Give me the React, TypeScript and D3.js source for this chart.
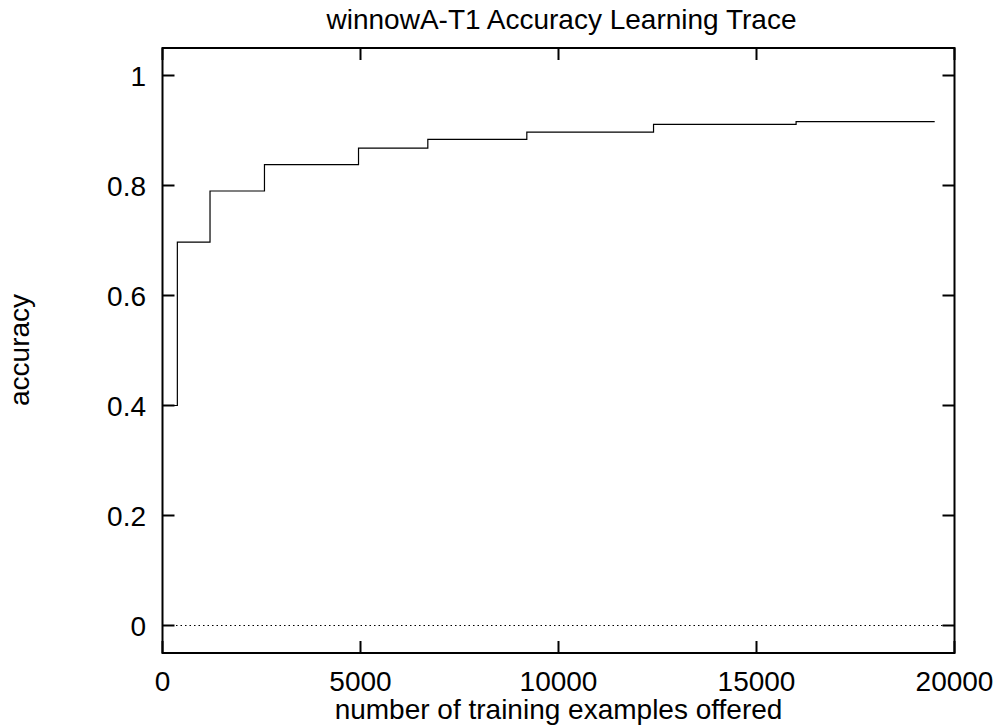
import React from "react";
import * as d3 from "d3";

const stepX = [0, 375, 1200, 2575, 4950, 6700, 9200, 12400, 16000, 19500];
const stepY = [0.4, 0.697, 0.79, 0.838, 0.868, 0.884, 0.897, 0.911, 0.916, 0.916];
const xTicks = [0, 5000, 10000, 15000, 20000];
const yTicks = [0, 0.2, 0.4, 0.6, 0.8, 1];
const titleText = "winnowA-T1 Accuracy Learning Trace";
const xLabel = "number of training examples offered";
const yLabel = "accuracy";

const W = 1000;
const H = 727;
const L = 162.5;
const R = 954.5;
const T = 48;
const B = 653;
const FONT = "'Liberation Sans', Arial, Helvetica, sans-serif";
const FS = 28;

export default function App() {
  const x = d3.scaleLinear().domain([0, 20000]).range([L, R]);
  const y = d3.scaleLinear().domain([-0.05, 1.05]).range([B, T]);
  const pts: [number, number][] = stepX.map((v, i) => [v, stepY[i]]);
  const line = d3
    .line<[number, number]>()
    .x((d) => x(d[0]))
    .y((d) => y(d[1]))
    .curve(d3.curveStepAfter);
  const tl = 12;
  return (
    <svg
      width={W}
      height={H}
      style={{ position: "absolute", left: 0, top: 0, background: "#fff" }}
      fontFamily={FONT}
    >
      <rect x={0} y={0} width={W} height={H} fill="#fff" />
      <line
        x1={L}
        x2={R}
        y1={y(0)}
        y2={y(0)}
        stroke="#000"
        strokeWidth={1}
        strokeDasharray="1.5,3"
      />
      {xTicks.map((t) => (
        <g key={"x" + t}>
          <line x1={x(t)} x2={x(t)} y1={B} y2={B - tl} stroke="#000" strokeWidth={2} />
          <line x1={x(t)} x2={x(t)} y1={T} y2={T + tl} stroke="#000" strokeWidth={2} />
          <text x={x(t)} y={691} textAnchor="middle" fontSize={FS} fill="#000">
            {t}
          </text>
        </g>
      ))}
      {yTicks.map((t) => (
        <g key={"y" + t}>
          <line x1={L} x2={L + tl} y1={y(t)} y2={y(t)} stroke="#000" strokeWidth={2} />
          <line x1={R} x2={R - tl} y1={y(t)} y2={y(t)} stroke="#000" strokeWidth={2} />
          <text
            x={146}
            y={y(t)}
            dy="0.36em"
            textAnchor="end"
            fontSize={FS}
            fill="#000"
          >
            {t}
          </text>
        </g>
      ))}
      <path d={line(pts) || ""} fill="none" stroke="#000" strokeWidth={1.2} />
      <rect x={L} y={T} width={R - L} height={B - T} fill="none" stroke="#000" strokeWidth={2} />
      <text x={(L + R) / 2 + 3} y={29} textAnchor="middle" fontSize={FS} fill="#000">
        {titleText}
      </text>
      <text x={(L + R) / 2} y={719} textAnchor="middle" fontSize={FS} fill="#000">
        {xLabel}
      </text>
      <text
        transform={`translate(29,350) rotate(-90)`}
        textAnchor="middle"
        fontSize={FS}
        fill="#000"
      >
        {yLabel}
      </text>
    </svg>
  );
}
